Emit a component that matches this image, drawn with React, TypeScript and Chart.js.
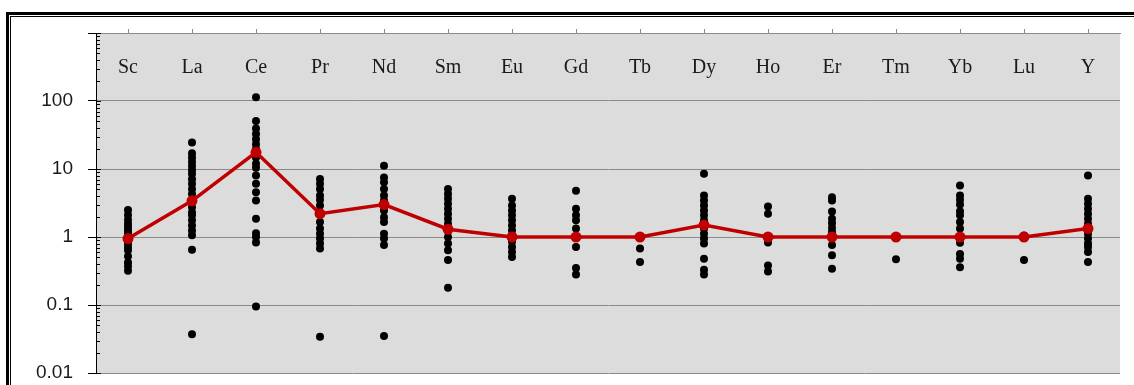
import { useEffect, useRef } from 'react';
import { Chart, registerables } from 'chart.js';

Chart.register(...registerables);

// Element order along the top axis
const elements = ['Sc', 'La', 'Ce', 'Pr', 'Nd', 'Sm', 'Eu', 'Gd', 'Tb', 'Dy', 'Ho', 'Er', 'Tm', 'Yb', 'Lu', 'Y'];

// Average (red line) per element
const meanValues = [0.95, 3.4, 17.6, 2.2, 3.0, 1.3, 1.0, 1.0, 1.0, 1.5, 1.0, 1.0, 1.0, 1.0, 1.0, 1.33];

// Individual sample values per element (black dots)
const scValues = [2.5, 2.1, 1.8, 1.57, 1.4, 1.25, 1.12, 0.95, 0.89, 0.8, 0.71, 0.64, 0.52, 0.42, 0.37, 0.32];
const laValues = [24.6, 17, 14.8, 12.8, 11.2, 9.7, 8.5, 7.1, 6.05, 5.1, 4.3, 3.45, 2.75, 2.3, 2.08, 1.76, 1.48, 1.25, 1.06, 0.65, 0.037];
const ceValues = [114, 51, 39.4, 32.6, 27.5, 23.2, 19.7, 17.6, 14.8, 11.9, 10.4, 8.0, 6.05, 4.56, 3.45, 1.86, 1.14, 1.0, 0.83, 0.095];
const prValues = [7.1, 6.05, 5.1, 4.08, 3.52, 2.9, 2.2, 1.66, 1.33, 1.12, 0.95, 0.8, 0.68, 0.034];
const ndValues = [11.2, 7.5, 6.4, 5.1, 4.08, 3.45, 3.0, 2.46, 1.96, 1.66, 1.12, 0.95, 0.76, 0.035];
const smValues = [5.1, 4.3, 3.65, 3.08, 2.6, 2.2, 1.86, 1.57, 1.3, 1.0, 0.8, 0.64, 0.46, 0.18];
const euValues = [3.65, 2.9, 2.46, 2.08, 1.76, 1.48, 1.25, 1.0, 0.85, 0.71, 0.6, 0.51];
const gdValues = [4.8, 2.6, 2.08, 1.76, 1.33, 1.0, 0.71, 0.35, 0.28];
const tbValues = [1.0, 0.68, 0.43];
const dyValues = [8.5, 4.08, 3.45, 2.9, 2.46, 2.08, 1.76, 1.53, 1.33, 1.12, 0.95, 0.8, 0.48, 0.33, 0.28];
const hoValues = [2.8, 2.2, 1.0, 0.83, 0.38, 0.31];
const erValues = [3.85, 3.45, 2.38, 1.86, 1.6, 1.37, 1.18, 1.0, 0.76, 0.54, 0.34];
const tmValues = [1.0, 0.47];
const ybValues = [5.7, 4.08, 3.52, 3.0, 2.4, 2.08, 1.66, 1.33, 1.0, 0.82, 0.56, 0.48, 0.36];
const luValues = [1.05, 0.46];
const yValues = [8.0, 3.65, 3.08, 2.6, 2.2, 1.86, 1.57, 1.33, 1.12, 0.95, 0.8, 0.71, 0.6, 0.43];

const sampleValues = [
  scValues, laValues, ceValues, prValues, ndValues, smValues, euValues, gdValues,
  tbValues, dyValues, hoValues, erValues, tmValues, ybValues, luValues, yValues,
];

// Log axis: labelled decades and the full tick set (decades plus 2..9 minors)
const yTickLabels = ['0.01', '0.1', '1', '10', '100'];
const decades = [0.01, 0.1, 1, 10, 100, 1000];

const isDecade = (v: number) => Math.abs(Math.log10(v) - Math.round(Math.log10(v))) < 1e-6;

const plotDecor = {
  id: 'plotDecor',
  beforeDraw(chart: any) {
    const { ctx, chartArea: a } = chart;
    ctx.save();
    ctx.fillStyle = '#DCDCDC';
    ctx.fillRect(a.left, a.top, a.right - a.left, a.bottom - a.top);
    ctx.restore();
  },
  beforeDatasetsDraw(chart: any) {
    const { ctx } = chart;
    const xs = chart.scales.x;
    ctx.save();
    ctx.fillStyle = '#1a1a1a';
    ctx.font = '20px "Liberation Serif"';
    ctx.textAlign = 'center';
    ctx.textBaseline = 'middle';
    elements.forEach((el, i) => {
      ctx.fillText(el, xs.getPixelForValue(i), 68);
    });
    ctx.restore();
  },
  afterDraw(chart: any) {
    const { ctx, chartArea: a } = chart;
    const ys = chart.scales.y;
    ctx.save();
    ctx.strokeStyle = '#000';
    ctx.lineWidth = 1;
    ys.ticks.forEach((t: any) => {
      const py = Math.round(ys.getPixelForValue(t.value)) + 0.5;
      const len = isDecade(t.value) ? 5 : 4;
      ctx.beginPath();
      ctx.moveTo(a.left, py);
      ctx.lineTo(a.left + len, py);
      ctx.stroke();
    });
    ctx.restore();
  },
};

export default function App() {
  const ref = useRef<HTMLCanvasElement>(null);

  useEffect(() => {
    const dots = elements.flatMap((el, i) => sampleValues[i].map((v) => ({ x: el, y: v })));
    const tickValues: number[] = [];
    decades.forEach((d) => {
      tickValues.push(d);
      if (d < 1000) for (let m = 2; m <= 9; m++) tickValues.push(+(d * m).toPrecision(6));
    });

    const chart = new Chart(ref.current as HTMLCanvasElement, {
      type: 'line',
      data: {
        labels: elements,
        datasets: [
          {
            label: 'Mean',
            data: meanValues,
            borderColor: '#C00000',
            backgroundColor: '#C00000',
            borderWidth: 3.5,
            pointRadius: 5.5,
            pointBorderWidth: 0,
            pointBackgroundColor: '#C00000',
            tension: 0,
          },
          {
            label: 'Samples',
            data: dots as any,
            showLine: false,
            pointRadius: 4,
            pointBorderWidth: 0,
            pointBackgroundColor: '#000',
            backgroundColor: '#000',
            borderColor: '#000',
          },
        ],
      },
      plugins: [plotDecor],
      options: {
        animation: false,
        responsive: false,
        devicePixelRatio: 1,
        layout: { padding: { top: 29, right: 14, bottom: 12, left: 0 } },
        plugins: { legend: { display: false }, tooltip: { enabled: false } },
        scales: {
          x: {
            type: 'category',
            position: 'top',
            offset: true,
            grid: {
              offset: false,
              drawOnChartArea: false,
              drawTicks: true,
              tickLength: 4,
              color: '#8a8a8a',
            },
            border: { display: true, color: '#8a8a8a' },
            ticks: { display: false },
            afterFit: (s: any) => {
              s.height = 4;
              s.paddingLeft = 0;
              s.paddingRight = 0;
            },
          },
          y: {
            type: 'logarithmic',
            position: 'left',
            min: 0.01,
            max: 1000,
            afterBuildTicks: (s: any) => {
              s.ticks = tickValues.map((v) => ({ value: v, major: isDecade(v) }));
            },
            afterFit: (s: any) => {
              s.width = 96;
              s.paddingTop = 0;
              s.paddingBottom = 0;
            },
            grid: {
              drawTicks: true,
              tickLength: 8,
              color: (c: any) => (c.tick && isDecade(c.tick.value) ? '#8a8a8a' : 'rgba(0,0,0,0)'),
              tickColor: (c: any) => (c.tick && isDecade(c.tick.value) ? '#000' : 'rgba(0,0,0,0)'),
            },
            border: { display: true, color: '#000', width: 1 },
            ticks: {
              autoSkip: false,
              padding: 15,
              color: '#1a1a1a',
              font: { family: '"Liberation Sans"', size: 19 },
              callback: (v: any) => {
                const val = Number(v);
                if (!isDecade(val)) return '';
                const idx = Math.round(Math.log10(val)) + 2;
                return yTickLabels[idx] ?? '';
              },
            },
          },
        },
      },
    });
    return () => chart.destroy();
  }, []);

  return (
    <div
      style={{
        position: 'fixed',
        left: 0,
        top: 0,
        width: 1134,
        height: 385,
        background: '#fff',
        overflow: 'hidden',
      }}
    >
      <div
        style={{
          position: 'absolute',
          left: 6,
          top: 12,
          width: 1200,
          height: 500,
          borderLeft: '3px solid #000',
          borderTop: '3px solid #000',
        }}
      />
      <div
        style={{
          position: 'absolute',
          left: 10,
          top: 16,
          width: 1200,
          height: 500,
          borderLeft: '1px solid #000',
          borderTop: '1px solid #000',
        }}
      />
      <canvas
        ref={ref}
        width={1134}
        height={385}
        style={{ position: 'absolute', left: 0, top: 0, width: 1134, height: 385 }}
      />
    </div>
  );
}
